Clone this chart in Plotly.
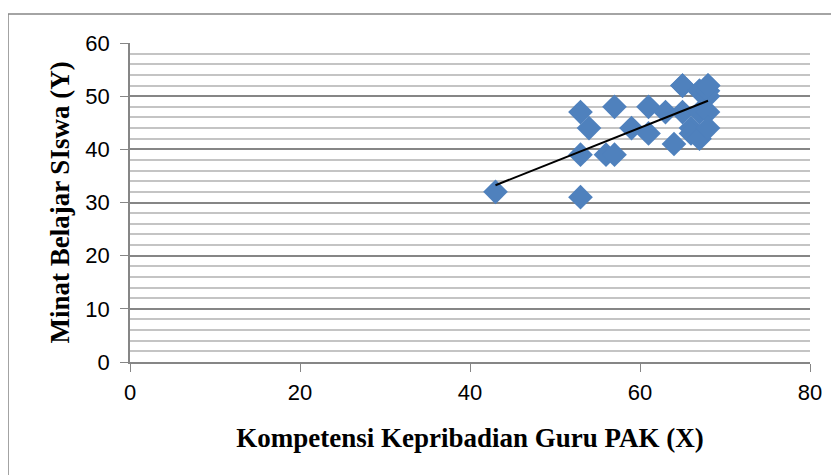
import numpy as np
import plotly.graph_objects as go

x_vals = [43, 53, 53, 53, 54, 56, 57, 57, 59, 61, 61, 63, 64, 65, 65, 65, 66, 66, 67, 67,
          67, 67, 68, 68, 68, 68, 68, 68, 68]
y_vals = [32, 31, 39, 47, 44, 39, 39, 48, 44, 48, 43, 47, 41, 52, 47, 52, 44, 43, 51, 47,
          42, 51, 52, 50, 51, 47, 44, 52, 52]
x_ticks = [0, 20, 40, 60, 80]
y_ticks = [0, 10, 20, 30, 40, 50, 60]

slope, intercept = np.polyfit(x_vals, y_vals, 1)
tx = [min(x_vals), max(x_vals)]
ty = [slope * v + intercept for v in tx]

fig = go.Figure()
fig.add_trace(go.Scatter(x=x_vals, y=y_vals, mode="markers",
                         marker=dict(symbol="diamond", size=19, color="#4F81BD",
                                     line=dict(width=0)),
                         showlegend=False, hoverinfo="x+y"))
fig.add_trace(go.Scatter(x=tx, y=ty, mode="lines", line=dict(color="black", width=2),
                         showlegend=False, hoverinfo="skip"))

tick_font = dict(family="Liberation Sans, Arial", size=22, color="black")
title_font = dict(family="Liberation Serif, Times New Roman", size=27, color="black")

fig.update_layout(
    width=831, height=467,
    margin=dict(l=122, r=29, t=35, b=113),
    paper_bgcolor="white", plot_bgcolor="white",
    xaxis=dict(range=[0, 80], tickvals=x_ticks, showgrid=False, zeroline=False,
               showline=True, linecolor="#868686", linewidth=1.5,
               ticks="outside", ticklen=8, tickcolor="#868686",
               tickfont=tick_font, ticklabelstandoff=2,
               title=dict(text="<b>Kompetensi Kepribadian Guru PAK (X)</b>", font=title_font, standoff=24)),
    yaxis=dict(range=[0, 60], tickvals=y_ticks, showgrid=True, gridcolor="#868686", gridwidth=1.5,
               zeroline=False, showline=True, linecolor="#868686", linewidth=1.5,
               ticks="outside", ticklen=8, tickcolor="#868686",
               tickfont=tick_font, ticklabelstandoff=6,
               minor=dict(dtick=2, showgrid=True, gridcolor="#c4c4c4", gridwidth=1.5),
               title=dict(text="<b>Minat Belajar SIswa (Y)</b>", font=title_font, standoff=8)),
    shapes=[dict(type="rect", xref="paper", yref="paper",
                 x0=-0.1794, x1=1.2, y0=-0.6, y1=1.0909,
                 line=dict(color="#868686", width=1.5), fillcolor="rgba(0,0,0,0)", layer="below")],
)

fig.write_html("out.html")
